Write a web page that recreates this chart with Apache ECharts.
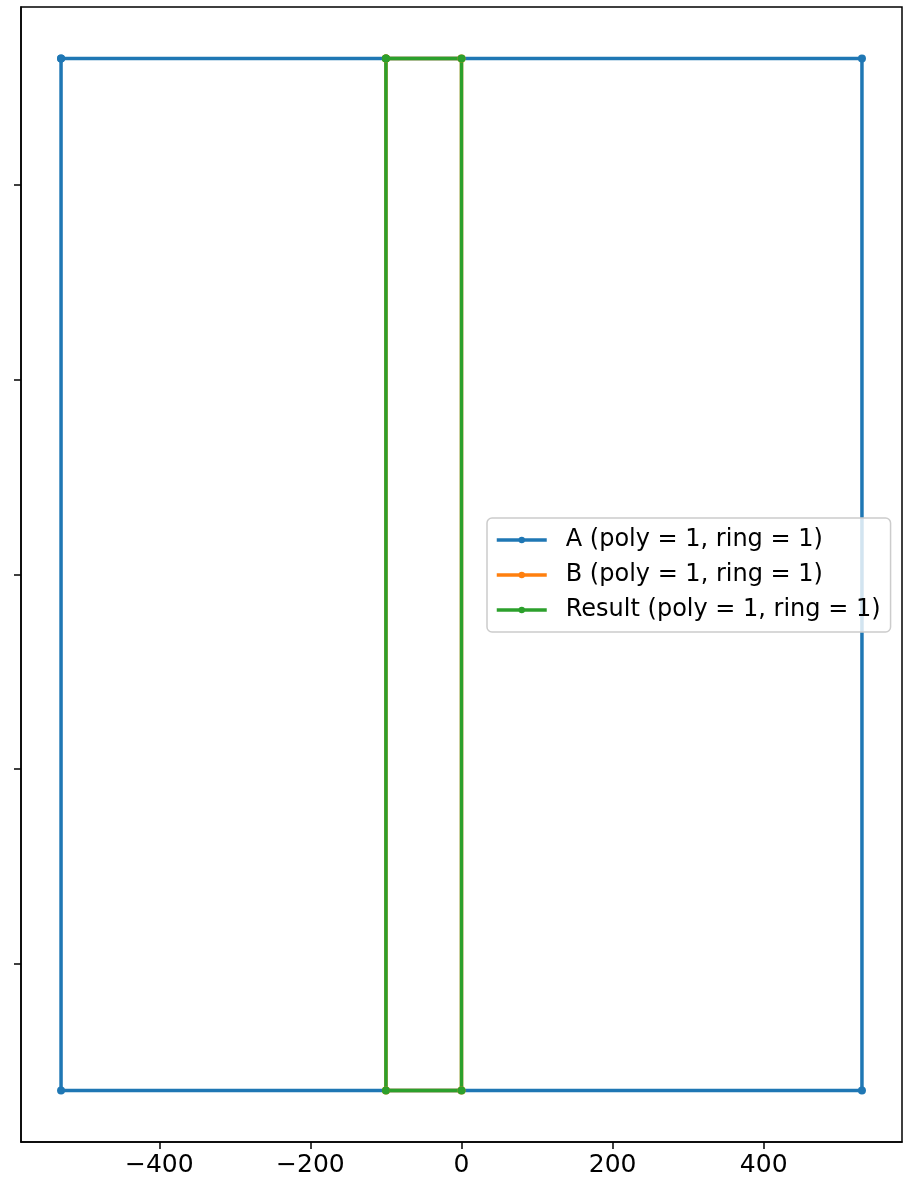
<!DOCTYPE html>
<html>
<head>
<meta charset="utf-8">
<script src="https://cdn.jsdelivr.net/npm/echarts@6/dist/echarts.min.js"></script>
<style>html,body{margin:0;padding:0;background:#fff}#c{width:909px;height:1190px}</style>
</head>
<body>
<div id="c"></div>
<script>
const seriesNames = ['A (poly = 1, ring = 1)', 'B (poly = 1, ring = 1)', 'Result (poly = 1, ring = 1)'];
const aX = [-530, 530, 530, -530, -530];
const aY = [530, 530, -530, -530, 530];
const bX = [-100, 0, 0, -100, -100];
const bY = [530, 530, -530, -530, 530];
const resX = [-100, 0, 0, -100, -100];
const resY = [530, 530, -530, -530, 530];
const xTicks = [-400, -200, 0, 200, 400];
const yTicks = [-400, -200, 0, 200, 400];
const colors = ['#1f77b4', '#ff7f0e', '#2ca02c'];

function pairs(xs, ys) { return xs.map((x, i) => [x, ys[i]]); }
const chart = echarts.init(document.getElementById('c'));
const font = 'DejaVu Sans';
const mk = (name, xs, ys, c) => ({
  name, type: 'line', data: pairs(xs, ys), color: c,
  lineStyle: { width: 3.5, color: c }, itemStyle: { color: c },
  symbol: 'circle', symbolSize: 8, showSymbol: true, animation: false
});
chart.setOption({
  animation: false,
  grid: { left: 21, right: 7, top: 7, bottom: 48, show: true, borderColor: '#000', borderWidth: 1.5 },
  xAxis: {
    type: 'value', min: -583, max: 583,
    axisLine: { show: true, onZero: false, lineStyle: { color: '#000', width: 1.5 } },
    axisTick: { show: true, length: 7, lineStyle: { color: '#000', width: 1.5 }, customValues: xTicks },
    axisLabel: { customValues: xTicks, color: '#000', fontFamily: font, fontSize: 25, margin: 11,
      formatter: v => String(v).replace('-', '\u2212') },
    splitLine: { show: false }
  },
  yAxis: {
    type: 'value', min: -583, max: 583,
    axisLine: { show: true, onZero: false, lineStyle: { color: '#000', width: 1.5 } },
    axisTick: { show: true, length: 7, lineStyle: { color: '#000', width: 1.5 }, customValues: yTicks },
    axisLabel: { show: false, customValues: yTicks },
    splitLine: { show: false }
  },
  legend: {
    orient: 'vertical', left: 487, top: 518,
    data: seriesNames,
    backgroundColor: 'rgba(255,255,255,0.8)', borderColor: '#ccc', borderWidth: 1.5, borderRadius: 5,
    padding: [10, 10, 10, 8],
    itemWidth: 50, itemHeight: 8, itemGap: 11,
    lineStyle: { width: 3.5 },
    textStyle: { fontFamily: font, fontSize: 24, color: '#000', padding: [0, 0, 0, 14], lineHeight: 24 }
  },
  series: [
    mk(seriesNames[0], aX, aY, colors[0]),
    mk(seriesNames[1], bX, bY, colors[1]),
    mk(seriesNames[2], resX, resY, colors[2])
  ]
});
</script>
</body>
</html>
